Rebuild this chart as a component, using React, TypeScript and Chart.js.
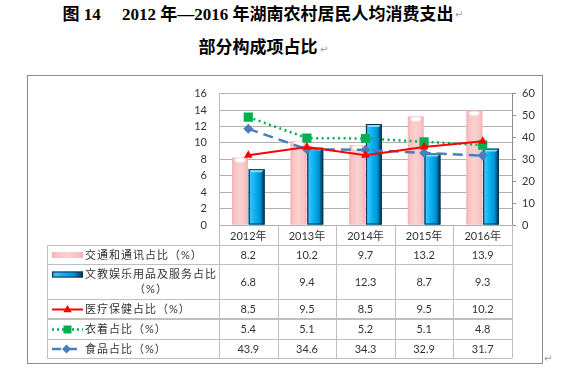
import React, { useEffect, useRef } from 'react';
import { Chart, registerables } from 'chart.js';

Chart.register(...registerables);

// ---------- data ----------
const categories = ['2012年', '2013年', '2014年', '2015年', '2016年'];
const transport = [8.2, 10.2, 9.7, 13.2, 13.9]; // 交通和通讯占比
const culture = [6.8, 9.4, 12.3, 8.7, 9.3]; // 文教娱乐用品及服务占比
const medical = [8.5, 9.5, 8.5, 9.5, 10.2]; // 医疗保健占比
const clothing = [5.4, 5.1, 5.2, 5.1, 4.8]; // 衣着占比
const food = [43.9, 34.6, 34.3, 32.9, 31.7]; // 食品占比
const seriesLabels = [
  ['交通和通讯占比（%）'],
  ['文教娱乐用品及服务占比', '（%）'],
  ['医疗保健占比（%）'],
  ['衣着占比（%）'],
  ['食品占比（%）'],
];
const tableValues = [transport, culture, medical, clothing, food];
const leftAxis = { min: 0, max: 16, step: 2 };
const rightAxis = { min: 0, max: 60, step: 10 };

// ---------- style ----------
const FONT = 'Lato, "Noto Sans CJK SC", sans-serif';
const TEXT = '#333333';
const RED = '#FF0000';
const GREEN = '#00B050';
const BLUE_LINE = '#4A7EBB';
const GRID = '#B0B0B0';
const TABLE_LINE = '#BFBFBF';

function drawPinkRect(ctx: CanvasRenderingContext2D, l: number, t: number, w: number, h: number, cap: boolean) {
  const g = ctx.createLinearGradient(l, 0, l + w, 0);
  g.addColorStop(0, '#F3B3B3');
  g.addColorStop(0.2, '#F8C6C6');
  g.addColorStop(0.5, '#FAD0D0');
  g.addColorStop(0.8, '#F8C6C6');
  g.addColorStop(1, '#F3B3B3');
  ctx.fillStyle = g;
  ctx.fillRect(l, t, w, h);
  if (cap) {
    ctx.fillStyle = 'rgba(255,255,255,0.95)';
    ctx.beginPath();
    ctx.ellipse(l + w / 2, t + 2.5, w * 0.32, 2.2, 0, 0, Math.PI * 2);
    ctx.fill();
  }
}

function drawBlueRect(ctx: CanvasRenderingContext2D, l: number, t: number, w: number, h: number, cap: boolean) {
  const g = ctx.createLinearGradient(l, 0, l + w, 0);
  g.addColorStop(0, '#0A86BC');
  g.addColorStop(0.12, '#38C2F8');
  g.addColorStop(0.4, '#06B2F2');
  g.addColorStop(0.72, '#0094D4');
  g.addColorStop(0.86, '#005F8E');
  g.addColorStop(1, '#082E46');
  ctx.fillStyle = g;
  ctx.fillRect(l, t, w, h);
  if (cap) {
    ctx.fillStyle = 'rgba(150,228,255,0.9)';
    ctx.beginPath();
    ctx.moveTo(l, t);
    ctx.lineTo(l + w, t);
    ctx.lineTo(l + w - 3, t + 3);
    ctx.lineTo(l + 3, t + 3);
    ctx.closePath();
    ctx.fill();
  }
  ctx.strokeStyle = '#0C3350';
  ctx.lineWidth = 1;
  ctx.strokeRect(l + 0.5, t + 0.5, w - 1, h - 1);
}

function drawTriangle(ctx: CanvasRenderingContext2D, x: number, y: number, r: number, color: string) {
  ctx.fillStyle = color;
  ctx.beginPath();
  ctx.moveTo(x, y - r);
  ctx.lineTo(x + r * 0.95, y + r * 0.6);
  ctx.lineTo(x - r * 0.95, y + r * 0.6);
  ctx.closePath();
  ctx.fill();
}

const tablePlugin = {
  id: 'dataTable',
  afterDatasetDraw(chart: any, args: any) {
    const meta = args.meta;
    if (meta.type !== 'bar') return;
    const ctx: CanvasRenderingContext2D = chart.ctx;
    ctx.save();
    meta.data.forEach((el: any) => {
      const p = el.getProps(['x', 'y', 'width', 'base'], true);
      const l = p.x - p.width / 2;
      const t = Math.min(p.y, p.base);
      const h = Math.abs(p.base - p.y);
      if (args.index === 0) drawPinkRect(ctx, l, t, p.width, h, true);
      else drawBlueRect(ctx, l, t, p.width, h, true);
    });
    ctx.restore();
  },
  afterDraw(chart: any) {
    const ctx: CanvasRenderingContext2D = chart.ctx;
    const xs = chart.scales.x;
    const area = chart.chartArea;
    const n = categories.length;
    const step = xs.getPixelForValue(1) - xs.getPixelForValue(0);
    const edges: number[] = [];
    for (let i = 0; i <= n; i++) edges.push(xs.getPixelForValue(0) - step / 2 + i * step);
    const headerTop = area.bottom;
    const headerBottom = headerTop + 20;
    const rowHeights = [19, 35, 20, 20, 19];
    const ys = [headerBottom];
    rowHeights.forEach((h) => ys.push(ys[ys.length - 1] + h));
    const tableLeft = 20;
    const tableRight = edges[n];
    const px = (v: number) => Math.round(v) + 0.5;

    ctx.save();
    ctx.strokeStyle = TABLE_LINE;
    ctx.lineWidth = 1;
    ys.forEach((yy, i) => {
      ctx.lineWidth = i === 3 ? 2 : 1;
      ctx.beginPath();
      ctx.moveTo(tableLeft, i === 3 ? Math.round(yy) : px(yy));
      ctx.lineTo(tableRight, i === 3 ? Math.round(yy) : px(yy));
      ctx.stroke();
    });
    ctx.lineWidth = 1;
    edges.forEach((ex) => {
      ctx.beginPath();
      ctx.moveTo(px(ex), headerTop);
      ctx.lineTo(px(ex), ys[ys.length - 1]);
      ctx.stroke();
    });
    ctx.beginPath();
    ctx.moveTo(px(tableLeft), headerBottom);
    ctx.lineTo(px(tableLeft), ys[ys.length - 1]);
    ctx.stroke();

    ctx.font = '11px ' + FONT;
    ctx.fillStyle = TEXT;
    ctx.textAlign = 'center';
    ctx.textBaseline = 'middle';
    categories.forEach((c, i) => {
      ctx.fillText(c, xs.getPixelForValue(i), (headerTop + headerBottom) / 2 + 1);
    });

    tableValues.forEach((vals, r) => {
      const cy = (ys[r] + ys[r + 1]) / 2 + 0.5;
      vals.forEach((v, i) => {
        ctx.fillText(v.toFixed(1), xs.getPixelForValue(i), cy);
      });
    });

    // legend labels
    const textX = 58;
    (ctx as any).letterSpacing = '1px';
    seriesLabels.forEach((lines, r) => {
      const cy = (ys[r] + ys[r + 1]) / 2 + 0.5;
      if (lines.length === 1) {
        ctx.textAlign = 'left';
        ctx.fillText(lines[0], textX, cy);
      } else {
        ctx.textAlign = 'left';
        ctx.fillText(lines[0], textX, cy - 7.5);
        ctx.textAlign = 'center';
        ctx.fillText(lines[1], 124, cy + 7.5);
      }
    });
    (ctx as any).letterSpacing = '0px';

    // legend symbols
    const sL = 25;
    const sR = 56;
    const sC = (sL + sR) / 2;
    const rowC = (r: number) => (ys[r] + ys[r + 1]) / 2 + 0.5;
    drawPinkRect(ctx, sL, rowC(0) - 3, sR - sL, 6, false);
    drawBlueRect(ctx, sL, rowC(1) - 7.5 - 3, sR - sL, 6, false);
    // red
    ctx.strokeStyle = RED;
    ctx.lineWidth = 2;
    ctx.beginPath();
    ctx.moveTo(sL, rowC(2));
    ctx.lineTo(sR, rowC(2));
    ctx.stroke();
    drawTriangle(ctx, sC, rowC(2), 4.5, RED);
    // green dotted
    ctx.strokeStyle = GREEN;
    ctx.lineWidth = 2.5;
    ctx.setLineDash([2, 3]);
    ctx.beginPath();
    ctx.moveTo(sL, rowC(3));
    ctx.lineTo(sR, rowC(3));
    ctx.stroke();
    ctx.setLineDash([]);
    ctx.fillStyle = GREEN;
    ctx.fillRect(sC - 4, rowC(3) - 4, 8, 8);
    // blue dashed
    ctx.strokeStyle = BLUE_LINE;
    ctx.lineWidth = 2.5;
    ctx.beginPath();
    ctx.moveTo(sL, rowC(4));
    ctx.lineTo(sL + 9, rowC(4));
    ctx.moveTo(sC - 1, rowC(4));
    ctx.lineTo(sL + 25, rowC(4));
    ctx.stroke();
    ctx.fillStyle = BLUE_LINE;
    ctx.beginPath();
    ctx.moveTo(sC - 1, rowC(4) - 4.5);
    ctx.lineTo(sC + 3.5, rowC(4));
    ctx.lineTo(sC - 1, rowC(4) + 4.5);
    ctx.lineTo(sC - 5.5, rowC(4));
    ctx.closePath();
    ctx.fill();
    ctx.restore();
  },
};

export default function App() {
  const ref = useRef<HTMLCanvasElement>(null);
  useEffect(() => {
    const chart = new Chart(ref.current as HTMLCanvasElement, {
      type: 'bar',
      data: {
        labels: categories,
        datasets: [
          {
            type: 'bar',
            label: seriesLabels[0].join(''),
            data: transport,
            yAxisID: 'y',
            backgroundColor: '#F8C6C6',
            borderWidth: 0,
            order: 4,
          },
          {
            type: 'bar',
            label: seriesLabels[1].join(''),
            data: culture,
            yAxisID: 'y',
            backgroundColor: '#00B0F0',
            borderWidth: 0,
            order: 5,
          },
          {
            type: 'line',
            label: seriesLabels[4].join(''),
            data: food,
            yAxisID: 'y1',
            borderColor: BLUE_LINE,
            borderWidth: 2.5,
            borderDash: [10, 6],
            backgroundColor: BLUE_LINE,
            pointStyle: 'rectRot',
            pointRadius: 5,
            pointBackgroundColor: BLUE_LINE,
            pointBorderWidth: 0,
            fill: false,
            order: 2,
          },
          {
            type: 'line',
            label: seriesLabels[3].join(''),
            data: clothing,
            yAxisID: 'y1',
            borderColor: GREEN,
            borderWidth: 2.5,
            borderDash: [2, 3.5],
            backgroundColor: GREEN,
            pointStyle: 'rect',
            pointRadius: 6.5,
            pointBackgroundColor: GREEN,
            pointBorderWidth: 0,
            fill: false,
            order: 3,
          },
          {
            type: 'line',
            label: seriesLabels[2].join(''),
            data: medical,
            yAxisID: 'y',
            borderColor: RED,
            borderWidth: 2,
            backgroundColor: RED,
            pointStyle: 'triangle',
            pointRadius: 5,
            pointBackgroundColor: RED,
            pointBorderWidth: 0,
            fill: false,
            order: 1,
          },
        ] as any,
      },
      options: {
        responsive: false,
        animation: false,
        layout: { padding: { top: 13, left: 0, right: 0, bottom: 0 } },
        datasets: { bar: { categoryPercentage: 0.57, barPercentage: 0.95 } } as any,
        plugins: { legend: { display: false }, tooltip: { enabled: false } },
        scales: {
          x: {
            type: 'category',
            offset: true,
            grid: { display: false },
            border: { display: false },
            ticks: { display: false },
            afterFit: (s: any) => {
              s.height = 138;
            },
          },
          y: {
            position: 'left',
            min: leftAxis.min,
            max: leftAxis.max,
            ticks: { stepSize: leftAxis.step, padding: 12, color: TEXT, font: { family: FONT, size: 11 } },
            grid: { color: GRID, drawTicks: false, lineWidth: 1 },
            border: { display: true, color: TABLE_LINE },
            afterFit: (s: any) => {
              s.width = 192;
            },
          },
          y1: {
            position: 'right',
            stacked: true,
            min: rightAxis.min,
            max: rightAxis.max,
            ticks: { stepSize: rightAxis.step, padding: 6, color: TEXT, font: { family: FONT, size: 11 } },
            grid: { drawOnChartArea: false, drawTicks: true, tickLength: 4, color: '#8C8C8C' },
            border: { display: true, color: '#8C8C8C' },
            afterFit: (s: any) => {
              s.width = 30;
            },
          },
        },
      } as any,
      plugins: [tablePlugin],
    });
    return () => chart.destroy();
  }, []);

  const titleBase: React.CSSProperties = {
    position: 'absolute',
    left: 0,
    width: 516,
    textAlign: 'center',
    fontSize: 17,
    lineHeight: '17px',
    fontWeight: 'bold',
    fontFamily: '"Liberation Serif", "Noto Sans CJK SC", serif',
    color: '#000',
    whiteSpace: 'pre',
  };
  const mark: React.CSSProperties = {
    position: 'absolute',
    fontSize: 10,
    lineHeight: '10px',
    fontFamily: '"DejaVu Sans", sans-serif',
    color: '#9A9A9A',
  };

  return (
    <div style={{ position: 'absolute', left: 0, top: 0, width: 575, height: 382, background: '#fff', overflow: 'hidden' }}>
      <div style={{ ...titleBase, top: 6 }}>{'图 14\u3000 2012 年—2016 年湖南农村居民人均消费支出'}</div>
      <div style={{ ...titleBase, top: 39 }}>部分构成项占比</div>
      <div style={{ ...mark, left: 455, top: 10 }}>↵</div>
      <div style={{ ...mark, left: 320, top: 45 }}>↵</div>
      <div style={{ ...mark, left: 544, top: 354 }}>↵</div>
      <div
        style={{
          position: 'absolute',
          left: 27,
          top: 75,
          width: 516,
          height: 289,
          border: '1px solid #8C8C8C',
          boxSizing: 'border-box',
        }}
      />
      <canvas ref={ref} width={515} height={288} style={{ position: 'absolute', left: 27, top: 75 }} />
    </div>
  );
}
